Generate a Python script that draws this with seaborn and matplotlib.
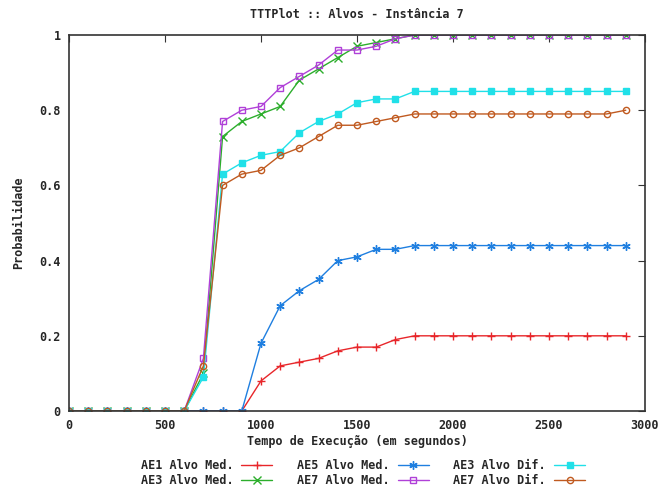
import matplotlib
matplotlib.use("Agg")
import matplotlib.pyplot as plt
import seaborn as sns
import pandas as pd

# time axis (seconds), one point every 100 s
tempo = list(range(0, 3000, 100))

ae1_med = [0, 0, 0, 0, 0, 0, 0, 0, 0, 0, 0.08, 0.12, 0.13, 0.14, 0.16, 0.17, 0.17, 0.19,
           0.20, 0.20, 0.20, 0.20, 0.20, 0.20, 0.20, 0.20, 0.20, 0.20, 0.20, 0.20]
ae3_med = [0, 0, 0, 0, 0, 0, 0, 0.10, 0.73, 0.77, 0.79, 0.81, 0.88, 0.91, 0.94, 0.97, 0.98, 0.99,
           1, 1, 1, 1, 1, 1, 1, 1, 1, 1, 1, 1]
ae5_med = [0, 0, 0, 0, 0, 0, 0, 0, 0, 0, 0.18, 0.28, 0.32, 0.35, 0.40, 0.41, 0.43, 0.43,
           0.44, 0.44, 0.44, 0.44, 0.44, 0.44, 0.44, 0.44, 0.44, 0.44, 0.44, 0.44]
ae7_med = [0, 0, 0, 0, 0, 0, 0, 0.14, 0.77, 0.80, 0.81, 0.86, 0.89, 0.92, 0.96, 0.96, 0.97, 0.99,
           1, 1, 1, 1, 1, 1, 1, 1, 1, 1, 1, 1]
ae3_dif = [0, 0, 0, 0, 0, 0, 0, 0.09, 0.63, 0.66, 0.68, 0.69, 0.74, 0.77, 0.79, 0.82, 0.83, 0.83,
           0.85, 0.85, 0.85, 0.85, 0.85, 0.85, 0.85, 0.85, 0.85, 0.85, 0.85, 0.85]
ae7_dif = [0, 0, 0, 0, 0, 0, 0, 0.12, 0.60, 0.63, 0.64, 0.68, 0.70, 0.73, 0.76, 0.76, 0.77, 0.78,
           0.79, 0.79, 0.79, 0.79, 0.79, 0.79, 0.79, 0.79, 0.79, 0.79, 0.79, 0.80]

labels = ["AE1 Alvo Med.", "AE3 Alvo Med.", "AE5 Alvo Med.",
          "AE7 Alvo Med.", "AE3 Alvo Dif.", "AE7 Alvo Dif."]
series = [ae1_med, ae3_med, ae5_med, ae7_med, ae3_dif, ae7_dif]

# gnuplot-like styles
colors = ["#e8262a", "#2cae2c", "#1f7fe0", "#b040d8", "#20e0e8", "#c05a20"]
markers = ["+", "x", (6, 2, 0), "s", "s", "o"]
fills = [True, True, True, False, True, False]
sizes = [6, 5.5, 6, 5, 5, 4.5]

sns.set_style("white")
plt.rcParams["font.family"] = ["DejaVu Sans Mono"]
plt.rcParams["font.weight"] = "bold"

fig = plt.figure(figsize=(6.62, 4.91), dpi=100)
ax = fig.add_axes([0.1042, 0.1629, 0.8701, 0.7658])

for lab, vals, c, m, f, ms in zip(labels, series, colors, markers, fills, sizes):
    df = pd.DataFrame({"tempo": tempo, "prob": vals})
    sns.lineplot(data=df, x="tempo", y="prob", ax=ax, color=c, marker=m,
                 markersize=ms, markeredgewidth=1.0, linewidth=1.0,
                 markerfacecolor=c if f else "none", markeredgecolor=c,
                 label=lab)

ax.set_xlim(0, 3000)
ax.set_ylim(0, 1)
ax.set_xticks(range(0, 3001, 500))
ax.set_yticks([0, 0.2, 0.4, 0.6, 0.8, 1])
ax.set_yticklabels(["0", "0.2", "0.4", "0.6", "0.8", "1"])
ax.tick_params(direction="in", length=5, top=True, right=True, labelsize=8.5,
               color="#333333", pad=6)
for lbl in ax.get_xticklabels() + ax.get_yticklabels():
    lbl.set_fontweight("bold")
for s in ax.spines.values():
    s.set_color("#333333")
    s.set_linewidth(1.2)

ax.set_title("TTTPlot :: Alvos - Instância 7", fontsize=8.5, fontweight="bold", pad=12)
ax.set_xlabel("Tempo de Execução (em segundos)", fontsize=8.5, fontweight="bold", labelpad=2)
ax.set_ylabel("Probabilidade", fontsize=8.5, fontweight="bold", labelpad=10)

leg = ax.legend(loc="upper center", bbox_to_anchor=(0.51, -0.1), ncol=3, frameon=False,
                markerfirst=False, fontsize=8.5, handlelength=2.6, columnspacing=2.1,
                labelspacing=0.15, handletextpad=0.7)
for t in leg.get_texts():
    t.set_fontweight("bold")

fig.savefig("out.png", dpi=100)
